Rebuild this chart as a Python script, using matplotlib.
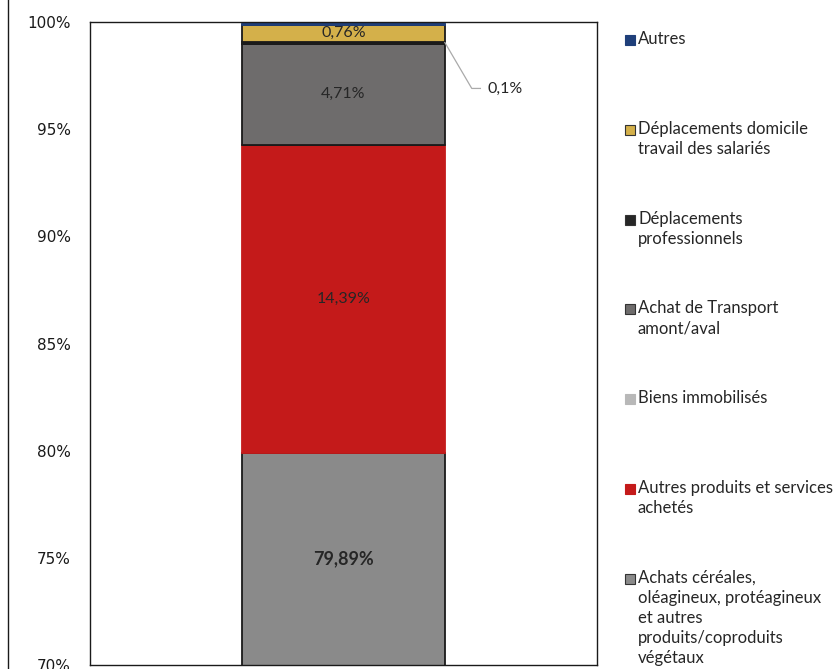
import matplotlib.pyplot as plt
import matplotlib.lines as mlines
import matplotlib.patches as mpatches

# bottom to top
categories = [
    "Achats céréales,\noléagineux, protéagineux\net autres\nproduits/coproduits\nvégétaux",
    "Autres produits et services\nachetés",
    "Biens immobilisés",
    "Achat de Transport\namont/aval",
    "Déplacements\nprofessionnels",
    "Déplacements domicile\ntravail des salariés",
    "Autres",
]
values = [79.89, 14.39, 0.0, 4.71, 0.10, 0.76, 0.15]
labels = ["79,89%", "14,39%", "", "4,71%", "", "0,76%", ""]
colors = ['#8a8a8a', '#c41a1a', '#b8b8b8', '#6e6c6c', '#262626', '#d4b04a', '#1f3f7a']
edges = ['#1a1a1a', '#c41a1a', '#1a1a1a', '#1a1a1a', '#1a1a1a', '#1a1a1a', '#1f3f7a']
yticks = [70, 75, 80, 85, 90, 95, 100]
YMIN, YMAX = 70, 100

fig = plt.figure(figsize=(8.37, 6.69), dpi=100)
ax = fig.add_axes([90/837, 1 - 665/669, 507/837, 643/669])

bottom = 0
for val, col, ec, lab in zip(values, colors, edges, labels):
    ax.bar(0, val, bottom=bottom, width=0.4, color=col, edgecolor=ec, linewidth=1.3)
    if lab:
        bold = lab == "79,89%"
        # centre of the visible part of the segment
        yc = (max(bottom, YMIN) + bottom + val) / 2
        ax.text(0, yc, lab, ha='center', va='center',
                fontsize=13 if bold else 11.5, fontweight='bold' if bold else 'normal',
                color='#262626', family='Lato', clip_on=True)
    bottom += val

# leader for the 0,1% slice
y_pro = sum(values[:4]) + values[4]/2
ax.plot([0.2, 0.253, 0.27], [y_pro, 96.9, 96.9], color='#aaaaaa', lw=0.9, clip_on=False)
ax.text(0.285, 96.9, "0,1%", ha='left', va='center', fontsize=11.5, color='#262626', family='Lato')

ax.set_xlim(-0.5, 0.5)
ax.set_ylim(YMIN, YMAX)
ax.set_xticks([])
ax.set_yticks(yticks)
ax.set_yticklabels([f"{t}%" for t in yticks], fontsize=11, family='DejaVu Sans', color='#1a1a1a')
ax.tick_params(axis='y', length=0, pad=14)
for s in ax.spines.values():
    s.set_color('#1a1a1a')
    s.set_linewidth(1.0)

# stray vertical line on the far left
fig.add_artist(mlines.Line2D([8/837, 8/837], [0, 1], color='#1a1a1a', lw=1.0))

# legend drawn by hand, top to bottom
legend_y0 = 40
legend_step = 89.8
for i, (cat, col) in enumerate(zip(categories[::-1], colors[::-1])):
    y = legend_y0 + i*legend_step
    ec = col if col in ('#1f3f7a', '#c41a1a', '#b8b8b8') else '#333333'
    fig.add_artist(mpatches.Rectangle((625/837, 1 - (y + 5)/669), 10/837, 10/669,
                                      facecolor=col, edgecolor=ec, linewidth=0.8,
                                      transform=fig.transFigure))
    fig.text(638/837, 1 - (y - 9)/669, cat, ha='left', va='top', fontsize=12,
             family='Lato', color='#262626', linespacing=1.32)

fig.savefig('out.png', dpi=100)
